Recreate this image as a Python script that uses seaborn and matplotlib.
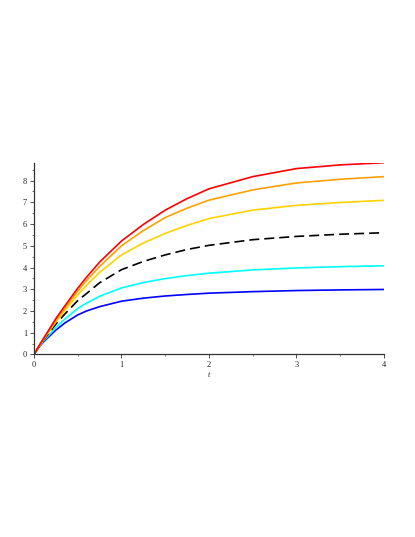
import numpy as np
import pandas as pd
import matplotlib
matplotlib.use("Agg")
import matplotlib.pyplot as plt
import seaborn as sns
from matplotlib.ticker import MultipleLocator

# time points
t = [0, 0.05, 0.1, 0.15, 0.25, 0.35, 0.5, 0.6, 0.75, 1.0, 1.25, 1.5, 1.75, 2.0, 2.5, 3.0, 3.5, 4.0]

red    = [0, 0.35, 0.68, 1.00, 1.65, 2.22, 3.05, 3.55, 4.25, 5.22, 5.98, 6.64, 7.17, 7.62, 8.18, 8.55, 8.72, 8.82]
orange = [0, 0.34, 0.66, 0.96, 1.58, 2.12, 2.92, 3.40, 4.05, 5.00, 5.70, 6.30, 6.73, 7.10, 7.57, 7.89, 8.06, 8.18]
yellow = [0, 0.33, 0.64, 0.93, 1.50, 2.02, 2.75, 3.18, 3.78, 4.58, 5.13, 5.57, 5.94, 6.25, 6.64, 6.86, 6.99, 7.09]
black  = [0, 0.32, 0.62, 0.88, 1.40, 1.85, 2.48, 2.80, 3.30, 3.90, 4.28, 4.58, 4.83, 5.02, 5.28, 5.43, 5.53, 5.60]
cyan   = [0, 0.31, 0.58, 0.80, 1.25, 1.62, 2.12, 2.36, 2.68, 3.06, 3.31, 3.49, 3.63, 3.74, 3.89, 3.98, 4.04, 4.08]
blue   = [0, 0.30, 0.54, 0.74, 1.12, 1.44, 1.82, 2.00, 2.20, 2.45, 2.59, 2.69, 2.76, 2.82, 2.89, 2.94, 2.97, 2.99]

series = {
    "blue": (blue, "#0000ff", "-"),
    "cyan": (cyan, "#00ffff", "-"),
    "black": (black, "#000000", (0, (6, 3))),
    "yellow": (yellow, "#ffd200", "-"),
    "orange": (orange, "#ffa000", "-"),
    "red": (red, "#ff0000", "-"),
}

sns.set_style("ticks")
plt.rcParams["font.family"] = ["Liberation Serif", "DejaVu Serif"]

fig = plt.figure(figsize=(4.15, 5.37), dpi=100)
ax = fig.add_axes([0.0819, 0.3399, 0.8434, 0.3571])

for name, (vals, col, ls) in series.items():
    df = pd.DataFrame({"t": t, "v": vals})
    sns.lineplot(data=df, x="t", y="v", ax=ax, color=col, linestyle=ls, linewidth=1.2)

ax.set_xlim(0, 4)
ax.set_ylim(0, 8.82)
ax.xaxis.set_major_locator(MultipleLocator(1))
ax.xaxis.set_minor_locator(MultipleLocator(0.5))
ax.yaxis.set_major_locator(MultipleLocator(1))
ax.yaxis.set_minor_locator(MultipleLocator(0.5))
ax.tick_params(which="major", length=3, width=0.6, labelsize=6, pad=2, color="#333333")
ax.tick_params(which="minor", length=1.5, width=0.5, color="#333333")
for s in ["top", "right"]:
    ax.spines[s].set_visible(False)
for s in ["left", "bottom"]:
    ax.spines[s].set_linewidth(0.9)
    ax.spines[s].set_color("#333333")

ax.set_xlabel("t", fontsize=6, style="italic", labelpad=1)
ax.set_ylabel("")

fig.savefig("out.png", dpi=100)
